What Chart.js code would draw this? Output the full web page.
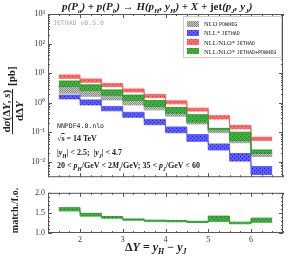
<!DOCTYPE html>
<html>
<head>
<meta charset="utf-8">
<script src="https://cdn.jsdelivr.net/npm/chart.js@4.4.0/dist/chart.umd.min.js"></script>
<style>
  body { margin: 0; width: 288px; height: 257px; position: relative; background: #fff; overflow: hidden; font-family: "Liberation Serif", serif; color: #222; }
  canvas { position: absolute; left: 0; }
  .t { position: absolute; white-space: nowrap; }
  .mono { font-family: "DejaVu Sans Mono", monospace; }
  .sc { font-size: 0.78em; font-family: "DejaVu Sans Mono", monospace; }
  #legend { left: 183px; top: 16px; width: 97px; height: 40px; border: 1px solid #ccc; background: #fff; }
  .row { position: absolute; left: 3px; height: 9px; font-size: 6.5px; line-height: 9px; }
  .sw { position: absolute; left: 0; top: 1.5px; width: 12px; height: 6px; }
  .lab { position: absolute; left: 17px; top: 0; white-space: nowrap; }
  .frac { display: inline-block; vertical-align: middle; text-align: center; }
  .frac span { display: block; }
  .frac .num { border-bottom: 1px solid #222; padding: 0 1px; }
</style>
</head>
<body>
<canvas id="main" width="288" height="185" style="top:0"></canvas>
<canvas id="ratio" width="288" height="72" style="top:185px"></canvas>

<div class="t" style="left:62px;top:0px;font-size:11px;font-weight:bold;font-style:italic">p(P<sub style="font-size:7px">a</sub>) + p(P<sub style="font-size:7px">b</sub>) → H(p<sub style="font-size:7px">H</sub>, y<sub style="font-size:7px">H</sub>) + X + <span style="font-style:normal">jet</span>(p<sub style="font-size:7px">J</sub>, y<sub style="font-size:7px">J</sub>)</div>

<div class="t mono" style="left:53px;top:19px;font-size:6.5px;color:#aaa">JETHAD v0.5.0</div>

<div id="legend" class="t"></div>

<div class="t mono" style="left:57px;top:122px;font-size:6.5px">NNPDF4.0.nlo</div>
<div class="t" style="left:57px;top:134px;font-size:8px;font-weight:bold">√<span style="text-decoration:overline">s</span> = 14 TeV</div>
<div class="t" style="left:57px;top:148px;font-size:8px;font-weight:bold">|<i>y<sub style="font-size:5.5px">H</sub></i>| &lt; 2.5; &nbsp;|<i>y<sub style="font-size:5.5px">J</sub></i>| &lt; 4.7</div>
<div class="t" style="left:57px;top:161px;font-size:8px;font-weight:bold">20 &lt; <i>p<sub style="font-size:5.5px">H</sub></i>/GeV &lt; 2<i>M<sub style="font-size:5.5px">t</sub></i>/GeV; 35 &lt; <i>p<sub style="font-size:5.5px">J</sub></i>/GeV &lt; 60</div>

<div class="t" style="left:-46px;top:86px;width:120px;height:28px;transform:rotate(-90deg);text-align:center;font-size:11px;font-weight:bold;line-height:12px">
  <span class="frac"><span class="num">d<i>σ</i>(Δ<i>Y</i>, <i>s</i>)</span><span>dΔ<i>Y</i></span></span> [pb]
</div>
<div class="t" style="left:-16px;top:205px;width:60px;text-align:center;transform:rotate(-90deg);font-size:10px;font-weight:bold">match./f.o.</div>
<div class="t" style="left:125px;top:240px;font-size:12px;font-weight:bold">Δ<i>Y</i> = <i>y<sub style="font-size:8px">H</sub></i> − <i>y<sub style="font-size:8px">J</sub></i></div>

<script>
// bin edges in Delta Y, one value per bin (10 bins)
const binEdges = [1.5, 2, 2.5, 3, 3.5, 4, 4.5, 5, 5.5, 6, 6.5];

// NLO POWHEG (gray)
const nloLo = [2.1, 1.65, 1.24, 0.84, 0.57, 0.35, 0.19, 0.096, 0.044, 0.015];
const nloHi = [3.6, 2.5, 1.8, 1.24, 0.84, 0.48, 0.25, 0.11, 0.058, 0.019];
// NLL* JETHAD (blue)
const nllLo = [1.34, 0.84, 0.53, 0.32, 0.18, 0.096, 0.049, 0.025, 0.0105, 0.0037];
const nllHi = [1.8, 1.24, 0.74, 0.47, 0.27, 0.15, 0.083, 0.04, 0.019, 0.0069];
// NLL/NLO* JETHAD (red)
const resLo = [6.7, 4.9, 3.5, 2.3, 1.5, 0.91, 0.52, 0.28, 0.13, 0.053];
const resHi = [8.6, 6.3, 4.4, 2.9, 1.9, 1.15, 0.65, 0.36, 0.17, 0.067];
// NLL/NLO* JETHAD+POWHEG (green)
const matLo = [3.5, 2.6, 1.8, 1.2, 0.74, 0.44, 0.22, 0.118, 0.052, 0.019];
const matHi = [5.4, 4.0, 2.7, 1.8, 1.19, 0.69, 0.39, 0.135, 0.10, 0.025];
// match / f.o. ratio
const ratioLo = [1.55, 1.42, 1.37, 1.32, 1.29, 1.28, 1.26, 1.29, 1.23, 1.27];
const ratioHi = [1.63, 1.49, 1.41, 1.35, 1.32, 1.31, 1.29, 1.42, 1.27, 1.37];

const yTicks = [0.01, 0.1, 1, 10, 100, 1000];
const yTickLabels = ["10⁻²", "10⁻¹", "10⁰", "10¹", "10²", "10³"];
const xTicks = [2, 3, 4, 5, 6];
const ratioTicks = [1.0, 1.5, 2.0];

function makePattern(bg, fg, cells) {
  const c = document.createElement("canvas");
  c.width = 4; c.height = 4;
  const g = c.getContext("2d");
  g.fillStyle = bg; g.fillRect(0, 0, 4, 4);
  g.fillStyle = fg;
  cells.forEach(p => g.fillRect(p[0], p[1], 1, 1));
  return c;
}
const dots = [[0, 0], [2, 2]];
const cross = [[0, 0], [2, 0], [1, 1], [3, 1], [0, 2], [2, 2], [1, 3], [3, 3]];
const pats = {
  gray: makePattern("#c4c4c4", "#8c8c8c", cross),
  blue: makePattern("#5a5aff", "#2020d0", dots),
  red: makePattern("#ff6a6a", "#e03030", dots),
  green: makePattern("#3fae3f", "#1a7a1a", dots)
};
const ctxTmp = document.createElement("canvas").getContext("2d");
function pat(name) { return ctxTmp.createPattern(pats[name], "repeat"); }

function steps(vals) {
  return binEdges.map((x, i) => ({ x: x, y: vals[Math.min(i, vals.length - 1)] }));
}
function band(lo, hi, name, line) {
  const common = { stepped: true, pointRadius: 0, borderWidth: 1, borderColor: line };
  return [
    Object.assign({ data: steps(hi), fill: "+1", backgroundColor: pat(name) }, common),
    Object.assign({ data: steps(lo), fill: false }, common)
  ];
}

// legend (html)
const legendItems = [
  ["gray", "NLO <span class='sc'>POWHEG</span>"],
  ["blue", "NLL* <span class='sc'>JETHAD</span>"],
  ["red", "NLL/NLO* <span class='sc'>JETHAD</span>"],
  ["green", "NLL/NLO* <span class='sc'>JETHAD+POWHEG</span>"]
];
const legend = document.getElementById("legend");
legendItems.forEach((it, i) => {
  const r = document.createElement("div");
  r.className = "row";
  r.style.top = (2 + i * 9.3) + "px";
  r.innerHTML = `<div class="sw" style="background-image:url(${pats[it[0]].toDataURL()})"></div><div class="lab">${it[1]}</div>`;
  legend.appendChild(r);
});

const frame = {
  id: "frame",
  afterDraw(chart, args, o) {
    const c = chart.ctx, a = chart.chartArea, xs = chart.scales.x, ys = chart.scales.y;
    c.save();
    c.strokeStyle = "#555"; c.lineWidth = 1;
    c.strokeRect(a.left + 0.5, a.top + 0.5, a.right - a.left - 1, a.bottom - a.top - 1);
    c.beginPath();
    const tx = (v, len) => { const p = Math.round(xs.getPixelForValue(v)) + 0.5; c.moveTo(p, a.top); c.lineTo(p, a.top + len); c.moveTo(p, a.bottom); c.lineTo(p, a.bottom - len); };
    const ty = (v, len) => { const p = Math.round(ys.getPixelForValue(v)) + 0.5; c.moveTo(a.left, p); c.lineTo(a.left + len, p); c.moveTo(a.right, p); c.lineTo(a.right - len, p); };
    o.xMajor.forEach(v => tx(v, 4));
    o.xMinor.forEach(v => tx(v, 2));
    o.yMajor.forEach(v => ty(v, 4));
    o.yMinor.forEach(v => ty(v, 2));
    c.stroke();
    c.restore();
  }
};

const xMinor = [];
for (let v = 1.25; v < 6.8; v += 0.25) if (Math.abs(v - Math.round(v)) > 0.01) xMinor.push(v);
const yMinor = [];
for (let d = -3; d <= 2; d++) for (let m = 2; m <= 9; m++) { const v = m * Math.pow(10, d); if (v > 0.003 && v < 1000) yMinor.push(v); }
const rMinor = [];
for (let v = 1.1; v < 2; v += 0.1) if (Math.abs(v - 1.5) > 0.01) rMinor.push(v);

const tickFont = { family: "Liberation Serif", size: 8 };

new Chart(document.getElementById("main"), {
  type: "line",
  data: {
    datasets: [].concat(
      band(matLo, matHi, "green", "rgba(40,150,40,0.9)"),
      band(resLo, resHi, "red", "rgba(255,90,90,0.9)"),
      band(nllLo, nllHi, "blue", "rgba(90,90,255,0.9)"),
      band(nloLo, nloHi, "gray", "rgba(150,150,150,0.9)")
    )
  },
  options: {
    responsive: false,
    animation: false,
    layout: { padding: { top: 14, right: 5, bottom: 5, left: 0 } },
    plugins: { legend: { display: false }, tooltip: { enabled: false },
      frame: { xMajor: xTicks, xMinor: xMinor, yMajor: yTicks, yMinor: yMinor } },
    scales: {
      x: { type: "linear", min: 1.25, max: 6.75, display: false },
      y: {
        type: "logarithmic", min: 0.003, max: 1000,
        afterFit(s) { s.width = 48; },
        afterBuildTicks(s) { s.ticks = yTicks.map(v => ({ value: v })); },
        ticks: { font: tickFont, color: "#333", padding: 3, callback: (v) => yTickLabels[yTicks.indexOf(v)] },
        grid: { display: false, drawTicks: false },
        border: { display: false }
      }
    }
  },
  plugins: [frame]
});

new Chart(document.getElementById("ratio"), {
  type: "line",
  data: { datasets: band(ratioLo, ratioHi, "green", "rgba(40,150,40,0.9)") },
  options: {
    responsive: false,
    animation: false,
    layout: { padding: { top: 6, right: 5, bottom: 0, left: 0 } },
    plugins: { legend: { display: false }, tooltip: { enabled: false },
      frame: { xMajor: xTicks, xMinor: xMinor, yMajor: ratioTicks, yMinor: rMinor } },
    scales: {
      x: {
        type: "linear", min: 1.25, max: 6.75,
        afterFit(s) { s.height = 24; },
        afterBuildTicks(s) { s.ticks = xTicks.map(v => ({ value: v })); },
        ticks: { font: tickFont, color: "#333", padding: 2 },
        grid: { display: false, drawTicks: false },
        border: { display: false }
      },
      y: {
        type: "linear", min: 1, max: 2,
        afterFit(s) { s.width = 48; },
        afterBuildTicks(s) { s.ticks = ratioTicks.map(v => ({ value: v })); },
        ticks: { font: tickFont, color: "#333", padding: 3, callback: v => v.toFixed(1) },
        grid: { display: false, drawTicks: false },
        border: { display: false }
      }
    }
  },
  plugins: [frame]
});
</script>
</body>
</html>
